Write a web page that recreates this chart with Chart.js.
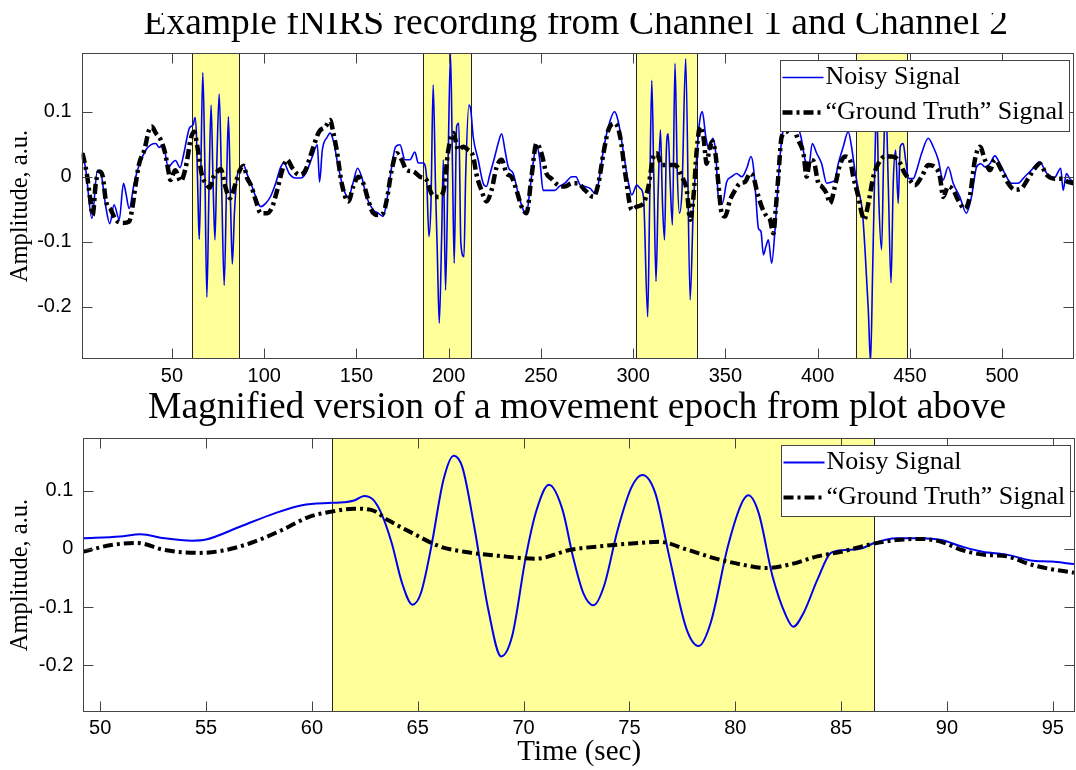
<!DOCTYPE html>
<html>
<head>
<meta charset="utf-8">
<title>Example fNIRS recording</title>
<script src="https://cdn.jsdelivr.net/npm/chart.js@4.4.1/dist/chart.umd.min.js"></script>
<style>
  body { margin: 0; background: #fff; }
  #wrap { position: relative; width: 1076px; height: 770px; }
  canvas { position: absolute; left: 0; }
  #top { top: 0; }
  #bottom { top: 386px; }
</style>
</head>
<body>
<div id="wrap">
  <canvas id="top" width="1076" height="386"></canvas>
  <canvas id="bottom" width="1076" height="384"></canvas>
</div>
<script>
// values, [time (sec), amplitude]
const topNoisy = [
  [1.5,0.038],[3.3,0.010],[6.6,-0.064],[9.6,0.010],[11.5,0.005],[14.1,-0.046],[16.3,-0.072],[18.6,-0.043],
  [21.4,-0.066],[23.7,-0.010],[25.0,-0.025],[26.8,-0.049],[29.5,-0.010],[32.2,0.018],[35.8,0.041],[38.5,0.049],
  [41.2,0.051],[43.0,0.045],[45.2,0.049],[48.1,0.013],[49.2,0.018],[51.9,0.025],[54.3,0.014],[56.6,0.038],
  [58.2,0.061],[59.5,0.075],[61.5,0.080],[62.5,0.091],[63.3,0.061],[64.3,-0.059],[64.8,-0.096],[65.6,0.004],
  [66.7,0.160],[67.7,0.038],[68.9,-0.185],[70.1,-0.013],[71.2,0.110],[72.3,-0.013],[73.3,-0.097],[74.4,0.032],
  [75.6,0.127],[76.9,-0.013],[78.3,-0.167],[79.7,0.004],[80.6,0.092],[81.8,-0.047],[82.7,-0.134],[83.9,-0.053],
  [85.2,-0.002],[86.6,0.010],[88.8,0.018],[90.7,0.004],[92.8,-0.010],[95.4,-0.031],[98.1,-0.046],[100.8,-0.041],
  [103.5,-0.030],[106.2,-0.010],[109.0,0.015],[110.7,0.021],[113.5,0.005],[117.0,-0.002],[119.8,-0.002],[122.5,0.005],
  [126.1,0.031],[128.8,0.049],[130.0,-0.008],[131.5,0.041],[134.2,0.061],[135.7,0.067],[137.5,0.055],[140.2,0.015],
  [142.9,-0.018],[145.6,-0.031],[148.3,-0.008],[150.6,0.013],[152.8,0.000],[155.5,-0.031],[159.1,-0.051],[161.8,-0.056],
  [164.5,-0.061],[166.4,-0.038],[169.1,0.015],[171.2,0.046],[173.6,0.049],[176.3,0.026],[179.0,0.026],[181.7,0.038],
  [183.5,0.021],[186.2,0.021],[188.0,0.000],[189.3,-0.092],[190.4,-0.040],[191.6,0.141],[192.9,-0.020],[193.8,-0.112],
  [194.9,-0.225],[196.2,-0.090],[197.1,0.026],[198.3,-0.174],[199.8,0.041],[201.0,0.189],[202.1,0.010],[203.0,-0.133],
  [204.3,0.077],[205.5,0.082],[206.6,-0.102],[208.3,-0.123],[209.2,0.000],[211.0,0.110],[212.0,0.102],[213.3,0.061],
  [216.0,0.026],[218.7,-0.010],[220.5,-0.015],[222.3,0.003],[225.0,0.031],[226.8,0.051],[228.7,0.066],[230.5,0.041],
  [232.3,0.015],[235.0,0.005],[237.7,-0.026],[240.4,-0.051],[242.2,-0.056],[244.0,-0.021],[245.8,0.021],[247.6,0.049],
  [249.4,0.026],[251.2,-0.021],[253.9,-0.021],[257.5,-0.021],[260.0,-0.015],[263.0,-0.010],[266.8,0.000],[269.0,0.000],
  [271.3,-0.013],[274.0,-0.015],[276.7,-0.018],[279.4,-0.026],[281.2,-0.010],[283.9,0.041],[286.6,0.077],[289.9,0.100],
  [292.0,0.084],[294.8,0.036],[297.5,-0.010],[299.3,-0.028],[302.0,-0.013],[303.8,-0.018],[305.6,-0.031],[307.9,-0.215],
  [308.9,-0.050],[310.1,0.148],[311.2,0.000],[312.4,-0.161],[313.6,-0.020],[314.8,0.072],[315.9,-0.040],[317.0,-0.097],
  [318.0,0.040],[319.0,0.066],[320.1,-0.010],[321.3,-0.074],[322.7,0.174],[323.9,0.010],[325.1,-0.056],[326.5,-0.020],
  [328.5,0.181],[330.9,-0.189],[332.7,-0.040],[334.5,0.031],[336.0,0.084],[337.5,0.100],[339.4,0.061],[341.3,0.041],
  [343.1,0.059],[344.8,0.036],[346.2,-0.031],[348.4,-0.041],[350.7,-0.008],[353.4,0.000],[356.1,0.005],[358.9,0.000],
  [361.6,0.013],[363.9,0.031],[365.2,0.015],[366.4,-0.026],[367.9,-0.079],[369.3,-0.084],[370.6,-0.120],[372.0,-0.107],
  [373.3,-0.097],[375.1,-0.133],[376.9,-0.082],[378.7,-0.005],[380.5,0.056],[384.1,0.090],[388.0,0.085],[391.0,0.061],
  [393.2,0.026],[395.0,0.010],[397.1,0.051],[399.5,0.036],[402.2,0.020],[404.9,-0.010],[407.6,-0.008],[409.4,-0.005],
  [411.2,0.020],[413.9,0.046],[416.6,0.069],[418.4,0.046],[420.2,0.010],[422.1,-0.020],[424.2,-0.051],[425.7,-0.112],
  [427.5,-0.205],[428.7,-0.285],[429.8,-0.150],[431.1,0.026],[432.0,0.118],[433.2,-0.036],[434.7,-0.112],[435.8,0.030],
  [436.9,0.118],[438.3,-0.010],[439.8,-0.163],[441.0,-0.010],[442.3,0.041],[443.7,-0.041],[444.8,0.046],[446.4,0.051],
  [447.7,0.026],[449.5,-0.003],[451.8,-0.003],[453.7,0.010],[456.4,0.036],[460.0,0.059],[462.7,0.046],[465.4,0.026],
  [468.0,-0.005],[470.8,0.015],[473.5,-0.010],[477.1,-0.031],[480.7,-0.056],[483.4,-0.031],[486.2,0.015],[488.5,0.020],
  [490.7,0.015],[493.4,0.020],[496.1,0.032],[498.8,0.020],[501.5,0.005],[505.1,-0.010],[508.7,-0.010],[512.3,0.000],
  [515.9,0.010],[520.5,0.023],[523.2,0.010],[526.8,-0.003],[529.0,0.000],[531.8,0.013],[533.1,-0.021],[534.9,0.005],
  [536.7,-0.003],[538.7,-0.008]
];
const topTruth = [
  [1.5,0.036],[3.8,0.005],[6.0,-0.041],[7.0,-0.059],[8.7,-0.010],[10.7,0.008],[12.5,0.000],[14.1,-0.036],
  [16.9,-0.051],[19.5,-0.066],[23.2,-0.071],[26.8,-0.069],[28.6,-0.046],[30.4,-0.010],[32.2,0.020],[35.0,0.041],
  [37.6,0.072],[39.0,0.077],[41.2,0.067],[44.0,0.056],[46.3,0.036],[48.0,0.010],[49.2,-0.005],[51.7,0.010],
  [54.7,-0.007],[57.1,0.010],[58.6,0.032],[59.9,0.055],[62.0,0.069],[63.6,0.049],[64.8,0.027],[66.1,0.004],
  [68.8,-0.012],[70.6,-0.017],[72.2,-0.002],[75.4,0.010],[76.4,0.012],[79.0,-0.016],[81.4,-0.033],[82.6,-0.027],
  [85.0,-0.005],[86.6,0.009],[88.8,0.017],[90.7,-0.002],[92.8,-0.013],[95.4,-0.036],[98.1,-0.056],[101.7,-0.056],
  [104.4,-0.046],[107.0,-0.021],[109.8,0.010],[112.5,0.026],[115.3,0.013],[118.9,0.003],[122.0,0.008],[126.1,0.041],
  [129.7,0.069],[133.3,0.077],[135.7,0.087],[137.5,0.067],[139.3,0.041],[142.0,-0.010],[145.6,-0.038],[148.3,-0.015],
  [151.0,0.000],[153.7,-0.010],[156.4,-0.036],[159.1,-0.056],[161.8,-0.059],[164.5,-0.056],[166.4,-0.036],[169.1,0.010],
  [171.8,0.036],[174.5,0.026],[177.2,0.010],[180.8,0.008],[184.4,0.000],[188.0,-0.005],[190.7,-0.026],[194.3,-0.031],
  [197.1,-0.023],[199.8,0.041],[202.5,0.067],[205.2,0.041],[207.9,0.046],[210.6,0.041],[213.3,0.031],[215.1,0.003],
  [217.8,-0.021],[220.5,-0.038],[223.2,-0.021],[226.0,0.015],[228.7,0.026],[231.4,0.005],[234.0,0.000],[236.8,-0.021],
  [239.5,-0.046],[242.2,-0.056],[244.9,0.000],[247.6,0.051],[250.3,0.036],[253.0,0.005],[255.7,-0.003],[259.4,-0.013],
  [263.0,-0.015],[266.8,-0.010],[270.0,-0.010],[274.0,-0.021],[278.5,-0.031],[281.2,-0.010],[283.9,0.036],[286.6,0.072],
  [290.2,0.082],[293.0,0.061],[295.7,0.005],[299.3,-0.051],[302.0,-0.046],[305.6,-0.041],[308.3,-0.015],[311.0,0.031],
  [312.8,0.036],[315.5,0.018],[319.1,0.018],[322.7,0.018],[326.4,0.000],[329.1,-0.021],[330.9,-0.066],[332.7,-0.031],
  [334.5,0.041],[336.3,0.077],[338.1,0.061],[339.9,0.020],[341.2,0.040],[343.0,0.054],[344.6,0.036],[346.2,-0.010],
  [348.0,-0.056],[349.8,-0.061],[352.5,-0.036],[355.2,-0.021],[358.0,-0.010],[360.7,-0.008],[363.4,0.005],[365.2,0.000],
  [367.0,-0.021],[369.7,-0.046],[372.4,-0.061],[374.2,-0.066],[376.0,-0.087],[377.3,-0.050],[378.7,0.000],[380.5,0.061],
  [383.2,0.069],[386.0,0.080],[389.5,0.056],[392.3,0.036],[394.1,0.000],[395.9,0.026],[397.8,0.024],[400.4,-0.010],
  [402.2,-0.015],[404.9,-0.026],[406.7,-0.041],[409.4,-0.015],[412.1,0.018],[414.8,0.031],[417.5,0.026],[419.3,0.000],
  [422.1,-0.031],[423.9,-0.056],[425.3,-0.066],[427.5,-0.041],[430.2,0.000],[432.9,0.020],[436.5,0.031],[440.1,0.031],
  [443.7,0.026],[447.3,0.005],[450.0,-0.005],[452.7,-0.013],[456.4,0.000],[460.0,0.018],[463.6,0.015],[466.3,0.000],
  [468.1,-0.031],[470.8,-0.015],[473.5,-0.020],[476.2,-0.036],[479.8,-0.049],[482.5,-0.031],[485.3,0.026],[488.0,0.046],
  [490.7,0.026],[493.4,0.010],[496.1,0.026],[499.7,0.010],[503.3,-0.010],[506.9,-0.020],[510.5,-0.018],[514.1,-0.003],
  [517.8,0.013],[520.5,0.020],[524.1,0.003],[528.6,-0.003],[532.2,-0.003],[535.8,-0.008],[538.7,-0.010]
];
const zoomNoisy = [
  [49.17,0.018],[50.93,0.021],[51.9,0.025],[53.04,0.018],[54.34,0.014],[55.0,0.016],[56.6,0.038],[58.24,0.061],
  [59.54,0.075],[60.93,0.079],[61.5,0.080],[62.0,0.083],[62.47,0.091],[62.88,0.085],[63.28,0.061],[63.77,0.010],
  [64.26,-0.059],[64.75,-0.096],[65.15,-0.076],[65.64,0.004],[66.21,0.118],[66.7,0.160],[67.11,0.140],[67.67,0.038],
  [68.33,-0.104],[68.94,-0.185],[69.46,-0.150],[70.11,-0.013],[70.6,0.065],[71.2,0.110],[71.84,0.067],[72.33,-0.013],
  [72.82,-0.076],[73.31,-0.097],[73.8,-0.064],[74.44,0.032],[75.1,0.106],[75.61,0.127],[76.23,0.095],[76.88,-0.013],
  [77.7,-0.138],[78.27,-0.167],[78.84,-0.127],[79.65,0.004],[80.3,0.078],[80.62,0.092],[81.11,0.061],[81.76,-0.047],
  [82.41,-0.116],[82.74,-0.134],[83.23,-0.110],[83.88,-0.053],[84.52,-0.007],[85.17,-0.002],[85.99,0.001],[86.56,0.010],
  [87.62,0.018],[88.75,0.018],[89.73,0.015],[90.7,0.004],[91.68,-0.005],[92.82,-0.010],[93.96,-0.020],[94.93,-0.022],
  [96.0,-0.026]
];
const zoomTruth = [
  [49.17,-0.005],[50.6,0.007],[51.74,0.010],[53.04,-0.002],[54.67,-0.007],[55.8,-0.003],[57.11,0.010],[58.57,0.032],
  [59.87,0.055],[60.93,0.064],[61.98,0.069],[62.8,0.067],[63.61,0.049],[64.75,0.027],[66.05,0.004],[67.19,-0.005],
  [68.81,-0.012],[70.6,-0.017],[72.17,-0.002],[73.8,0.005],[75.42,0.010],[76.4,0.012],[77.7,-0.001],[79.0,-0.016],
  [80.3,-0.027],[81.44,-0.033],[82.57,-0.027],[83.88,-0.013],[85.01,-0.005],[86.56,0.009],[87.62,0.015],[88.75,0.017],
  [89.73,0.012],[90.7,-0.002],[91.68,-0.010],[92.82,-0.013],[93.96,-0.027],[94.93,-0.035],[96.0,-0.041]
];

// movement epochs (shaded)
const topEpochStart = [61, 186, 301.5, 421];
const topEpochEnd = [86.5, 212, 334.5, 448.5];
const zoomEpochStart = [60.95];
const zoomEpochEnd = [86.55];

// ticks
const topXTicks = [50, 100, 150, 200, 250, 300, 350, 400, 450, 500];
const topXLabels = ['50', '100', '150', '200', '250', '300', '350', '400', '450', '500'];
const zoomXTicks = [50, 55, 60, 65, 70, 75, 80, 85, 90, 95];
const zoomXLabels = ['50', '55', '60', '65', '70', '75', '80', '85', '90', '95'];
const yTicks = [-0.2, -0.1, 0, 0.1];
const yLabels = ['-0.2', '-0.1', '0', '0.1'];

const seriesLabels = ['Noisy Signal', '\u201cGround Truth\u201d Signal'];

const SERIF = '"Liberation Serif", "DejaVu Serif", serif';
const SANS = '"Liberation Sans", Arial, sans-serif';
const BLUE = '#0000f0';
const DASH = [10, 4, 3, 4];

// yellow patches behind the lines
const epochShading = {
  id: 'epochShading',
  beforeDatasetsDraw(chart, args, opts) {
    const { ctx, chartArea: a, scales: { x } } = chart;
    ctx.save();
    ctx.beginPath();
    ctx.rect(a.left, a.top, a.width, a.height);
    ctx.clip();
    opts.starts.forEach((s, i) => {
      const x0 = x.getPixelForValue(s);
      const x1 = x.getPixelForValue(opts.ends[i]);
      ctx.fillStyle = '#ffff99';
      ctx.fillRect(x0, a.top, x1 - x0, a.height);
      ctx.strokeStyle = '#222';
      ctx.lineWidth = 1;
      ctx.beginPath();
      [x0, x1].forEach(px => {
        const p = Math.round(px) + 0.5;
        ctx.moveTo(p, a.top);
        ctx.lineTo(p, a.bottom);
      });
      ctx.stroke();
    });
    ctx.restore();
  }
};

// matlab style box with inward ticks on all four sides
const axesBox = {
  id: 'axesBox',
  afterDatasetsDraw(chart) {
    const { ctx, chartArea: a, scales: { x, y } } = chart;
    const len = 10;
    ctx.save();
    ctx.strokeStyle = '#444';
    ctx.lineWidth = 1;
    const l = Math.round(a.left) + 0.5, r = Math.round(a.right) - 0.5;
    const t = Math.round(a.top) + 0.5, b = Math.round(a.bottom) - 0.5;
    ctx.strokeRect(l, t, r - l, b - t);
    ctx.beginPath();
    x.ticks.forEach(tk => {
      const px = Math.round(x.getPixelForValue(tk.value)) + 0.5;
      ctx.moveTo(px, b); ctx.lineTo(px, b - len);
      ctx.moveTo(px, t); ctx.lineTo(px, t + len);
    });
    y.ticks.forEach(tk => {
      const py = Math.round(y.getPixelForValue(tk.value)) + 0.5;
      ctx.moveTo(l, py); ctx.lineTo(l + len, py);
      ctx.moveTo(r, py); ctx.lineTo(r - len, py);
    });
    ctx.stroke();
    ctx.restore();
  }
};

// boxed legend inside the top right corner
const boxLegend = {
  id: 'boxLegend',
  afterDatasetsDraw(chart) {
    const { ctx, chartArea: a } = chart;
    const ds = chart.data.datasets;
    const w = 289, h = 71;
    const bx = Math.round(a.right - 5 - w) + 0.5, by = Math.round(a.top + 7) + 0.5;
    ctx.save();
    ctx.fillStyle = '#fff';
    ctx.fillRect(bx, by, w, h);
    ctx.strokeStyle = '#444';
    ctx.lineWidth = 1;
    ctx.strokeRect(bx, by, w, h);
    ctx.font = '26px ' + SERIF;
    ctx.fillStyle = '#000';
    ctx.textBaseline = 'alphabetic';
    const rows = [[17, 23.5], [52, 58]];
    ds.forEach((d, i) => {
      ctx.beginPath();
      ctx.strokeStyle = d.borderColor;
      ctx.lineWidth = d.borderWidth;
      ctx.setLineDash(d.borderDash || []);
      ctx.moveTo(bx + 2, by + rows[i][0]);
      ctx.lineTo(bx + 43, by + rows[i][0]);
      ctx.stroke();
      ctx.setLineDash([]);
      ctx.fillText(d.label, bx + 45, by + rows[i][1]);
    });
    ctx.restore();
  }
};

// centred serif title, optionally cut at the top like the source image
const plotTitle = {
  id: 'plotTitle',
  afterDraw(chart, args, opts) {
    const { ctx, chartArea: a } = chart;
    ctx.save();
    ctx.beginPath();
    ctx.rect(0, opts.clipTop, chart.width, chart.height);
    ctx.clip();
    ctx.font = '37.5px ' + SERIF;
    ctx.fillStyle = '#000';
    ctx.textAlign = 'center';
    ctx.textBaseline = 'alphabetic';
    ctx.fillText(opts.text, (a.left + a.right) / 2 - 2, opts.baseline);
    ctx.restore();
  }
};

function pts(arr) {
  return arr.map(p => ({ x: p[0], y: p[1] }));
}

function makeChart(id, cfg) {
  return new Chart(document.getElementById(id), {
    type: 'line',
    data: {
      datasets: [
        { label: seriesLabels[0], data: pts(cfg.noisy), borderColor: BLUE, borderWidth: cfg.blueWidth,
          pointRadius: 0, cubicInterpolationMode: 'monotone', clip: 0, order: 2 },
        { label: seriesLabels[1], data: pts(cfg.truth), borderColor: '#000', borderWidth: cfg.blackWidth,
          borderDash: DASH, pointRadius: 0, cubicInterpolationMode: 'monotone', clip: 0, order: 1 }
      ]
    },
    options: {
      responsive: false,
      animation: false,
      devicePixelRatio: 1,
      layout: { padding: { top: cfg.padTop, right: cfg.padRight, left: 0, bottom: 0 } },
      plugins: {
        legend: { display: false },
        tooltip: { enabled: false },
        epochShading: { starts: cfg.starts, ends: cfg.ends },
        plotTitle: { text: cfg.title, baseline: cfg.titleBase, clipTop: cfg.clipTop }
      },
      scales: {
        x: {
          type: 'linear', min: cfg.xmin, max: cfg.xmax,
          afterBuildTicks: s => { s.ticks = cfg.xTicks.map(v => ({ value: v })); },
          afterFit: s => { s.height = cfg.xHeight; },
          grid: { display: false, drawTicks: false },
          border: { display: false },
          ticks: { autoSkip: false, maxRotation: 0, padding: 5, color: '#000',
                   font: { family: SANS, size: 20 },
                   callback: (v, i) => cfg.xLabels[i] },
          title: { display: !!cfg.xTitle, text: cfg.xTitle || '', color: '#000',
                   font: { family: SERIF, size: 29 }, padding: { top: 0, bottom: 0 } }
        },
        y: {
          min: -0.28, max: 0.19,
          afterBuildTicks: s => { s.ticks = yTicks.map(v => ({ value: v })); },
          afterFit: s => { s.width = cfg.yWidth; },
          grid: { display: false, drawTicks: false },
          border: { display: false },
          ticks: { padding: 10, color: '#000', font: { family: SANS, size: 20 },
                   callback: (v, i) => yLabels[i] },
          title: { display: true, text: 'Amplitude, a.u.', color: '#000',
                   font: { family: SERIF, size: 24.5 }, padding: { top: 6, bottom: 0 } }
        }
      }
    },
    plugins: [epochShading, axesBox, boxLegend, plotTitle]
  });
}

makeChart('top', {
  noisy: topNoisy, truth: topTruth, blueWidth: 1.6, blackWidth: 4.5,
  starts: topEpochStart, ends: topEpochEnd,
  xmin: 1, xmax: 539, xTicks: topXTicks, xLabels: topXLabels,
  padTop: 53, padRight: 2, xHeight: 27, yWidth: 81.6,
  title: 'Example fNIRS recording from Channel 1 and Channel 2', titleBase: 34, clipTop: 13
});

makeChart('bottom', {
  noisy: zoomNoisy, truth: zoomTruth, blueWidth: 2, blackWidth: 4,
  starts: zoomEpochStart, ends: zoomEpochEnd,
  xmin: 49.2, xmax: 96.05, xTicks: zoomXTicks, xLabels: zoomXLabels, xTitle: 'Time (sec)',
  padTop: 52.3, padRight: 1, xHeight: 58.3, yWidth: 83.3,
  title: 'Magnified version of a movement epoch from plot above', titleBase: 32, clipTop: 0
});
</script>
</body>
</html>
